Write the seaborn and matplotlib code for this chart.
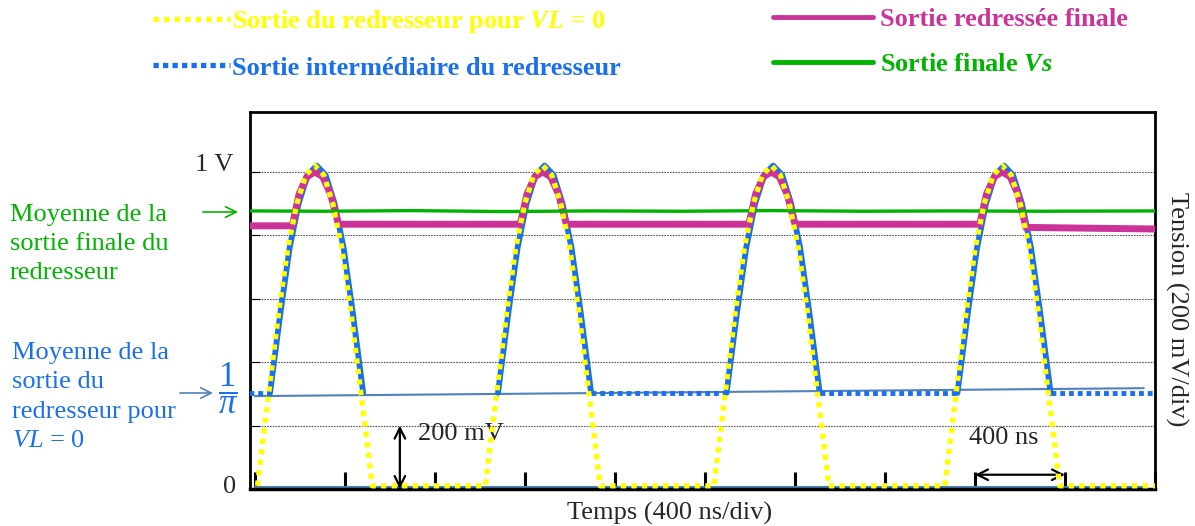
import matplotlib
matplotlib.use("Agg")
import matplotlib.pyplot as plt
from matplotlib.lines import Line2D
import numpy as np
import pandas as pd
import seaborn as sns

# time axis in ns (10 divisions of 400 ns), voltage in V
t_ticks = list(range(0, 4001, 400))
grid_levels = [0.2, 0.4, 0.6, 0.8, 1.0]

# pulse peaks
peak_times = [266, 1279, 2295, 3321]

# rectifier output for VL = 0 (one pulse, offsets from its peak)
pulse_offsets = [-255, -230, -200, -160, -120, -80, -40, 0, 40, 80, 120, 160, 200, 230, 255]
yellow_pulse = [0.01, 0.16, 0.33, 0.56, 0.76, 0.90, 0.99, 1.02, 0.99, 0.90, 0.76, 0.56, 0.33, 0.16, 0.01]
yellow_end = (4000, 0.01)

# intermediate output: solid part on the pulses, dotted at the 1/pi level
blue_offsets = [-199, -152, -112, -72, -32, 8, 48, 88, 128, 168, 215]
blue_pulse = [0.303, 0.56, 0.76, 0.90, 0.99, 1.02, 0.99, 0.90, 0.76, 0.56, 0.303]
blue_level = 0.303
blue_flat_start = [-25, 1494, 2510, 3536]
blue_flat_end = [67, 2096, 3122, 4000]

# final rectified output
mag_levels = [0.83, 0.835, 0.835, 0.835, 0.825]
mag_offsets = [-70, -35, 0, 35, 70]
mag_pulse = [0.93, 0.985, 1.0, 0.985, 0.93]
mag_rise, mag_fall = -100, 105
mag_end = (4000, 0.82)

# final output Vs
green_t = [-25, 300, 700, 1100, 1500, 1900, 2300, 2700, 3100, 3500, 4000]
green_v = [0.877, 0.876, 0.878, 0.875, 0.877, 0.876, 0.878, 0.876, 0.877, 0.876, 0.877]

# thin mean line and baseline
mean_t = [0, 3950]
mean_v = [0.293, 0.318]
base_t = [0, 3950]
base_v = [0.005, 0.005]

YELLOW = "#ffff00"
BLUE = "#1a6fef"
MAGENTA = "#cc3399"
GREEN = "#00b400"
STEEL = "#4f81bd"

sns.set_style("white")
plt.rcParams["font.family"] = ["Liberation Serif", "DejaVu Serif"]
plt.rcParams["font.size"] = 19
plt.rcParams["mathtext.fontset"] = "custom"
plt.rcParams["mathtext.rm"] = "Liberation Serif"
plt.rcParams["mathtext.it"] = "Liberation Serif:italic"
plt.rcParams["mathtext.bf"] = "Liberation Serif:bold"
plt.rcParams["mathtext.bfit"] = "Liberation Serif:bold:italic"

# build the traces
yt, yv = [], []
for p in peak_times:
    yt += [p + o for o in pulse_offsets]
    yv += yellow_pulse
yt.append(yellow_end[0])
yv.append(yellow_end[1])
yellow_df = pd.DataFrame({"t": yt, "v": yv})

rows = []
for i, p in enumerate(peak_times):
    for o, v in zip(blue_offsets, blue_pulse):
        rows.append((p + o, v, i))
blue_df = pd.DataFrame(rows, columns=["t", "v", "seg"])

rows = []
for i, (a, b) in enumerate(zip(blue_flat_start, blue_flat_end)):
    rows += [(a, blue_level, i), (b, blue_level, i)]
blue_flat_df = pd.DataFrame(rows, columns=["t", "v", "seg"])

mt, mv = [-30], [mag_levels[0]]
for i, p in enumerate(peak_times):
    mt.append(p + mag_rise)
    mv.append(mag_levels[i])
    mt += [p + o for o in mag_offsets]
    mv += mag_pulse
    mt.append(p + mag_fall)
    mv.append(mag_levels[i + 1])
mt.append(mag_end[0])
mv.append(mag_end[1])
mag_df = pd.DataFrame({"t": mt, "v": mv})

fig = plt.figure(figsize=(11.95, 5.26), dpi=100)
ax = fig.add_axes([250 / 1195, 37 / 526, 905 / 1195, 377 / 526])

sns.lineplot(x=base_t, y=base_v, ax=ax, color=STEEL, lw=1.5, zorder=2)
sns.lineplot(x=mean_t, y=mean_v, ax=ax, color=STEEL, lw=1.5, zorder=2)
sns.lineplot(data=blue_df, x="t", y="v", units="seg", estimator=None, sort=False,
             ax=ax, color=BLUE, lw=4.2, zorder=3)
sns.lineplot(data=blue_flat_df, x="t", y="v", units="seg", estimator=None, sort=False,
             ax=ax, color=BLUE, lw=3.5, linestyle=(0, (1, 0.8)), zorder=3)
sns.lineplot(data=mag_df, x="t", y="v", sort=False, ax=ax, color=MAGENTA, lw=5, zorder=4)
sns.lineplot(x=green_t, y=green_v, ax=ax, color=GREEN, lw=2.4, zorder=5)
sns.lineplot(data=yellow_df, x="t", y="v", sort=False, ax=ax, color=YELLOW, lw=3.8,
             linestyle=(0, (1, 1)), zorder=6)

ax.set_xlim(-22, 4000)
ax.set_ylim(0, 1.189)
ax.set_xticks(t_ticks)
ax.set_yticks(grid_levels)
ax.tick_params(axis="x", direction="in", length=12, width=2.2, color="black",
               labelbottom=False, bottom=True)
ax.tick_params(axis="y", direction="in", length=7, width=0.8, color="black",
               labelleft=False, left=True)
ax.yaxis.grid(True, color="#555555", linestyle=(0, (1.5, 1)), lw=0.8)
ax.set_xlabel("")
ax.set_ylabel("")
for side, w in [("left", 2), ("bottom", 2.5), ("top", 2), ("right", 2)]:
    ax.spines[side].set_visible(True)
    ax.spines[side].set_color("black")
    ax.spines[side].set_linewidth(w)

ytrans = ax.get_yaxis_transform()
ax.text(-0.040, 1.022, "1 V", transform=ytrans, ha="center", va="center")
ax.text(-0.023, 0.005, "0", transform=ytrans, ha="center", va="center")
ax.text(-0.024, 0.318, r"$\dfrac{1}{\pi}$", transform=ytrans, ha="center", va="center",
        color=BLUE, fontsize=25)

ax.text(0.464, -0.064, "Temps (400 ns/div)", transform=ax.transAxes, ha="center", va="center")
ax.text(1.024, 0.477, "Tension (200 mV/div)", transform=ax.transAxes, ha="center",
        va="center", rotation=270)

ax.annotate("", xy=(644, 0.0), xytext=(644, 0.2),
            arrowprops=dict(arrowstyle="<->", color="black", lw=1.6, shrinkA=0, shrinkB=0))
ax.text(724, 0.175, "200 mV", ha="left", va="center")
ax.annotate("", xy=(3200, 0.045), xytext=(3600, 0.045),
            arrowprops=dict(arrowstyle="<->", color="black", lw=1.6, shrinkA=0, shrinkB=0))
ax.text(3326, 0.16, "400 ns", ha="center", va="center")

fig.text(10 / 1195, 1 - 244 / 526, "Moyenne de la\nsortie finale du\nredresseur",
         color=GREEN, ha="left", va="center", linespacing=1.42)
fig.text(12 / 1195, 1 - 397 / 526, "Moyenne de la\nsortie du\nredresseur pour\n$VL$ = 0",
         color=BLUE, ha="left", va="center", linespacing=1.42)
ax.annotate("", xy=(238 / 1195, 1 - 212 / 526), xytext=(203 / 1195, 1 - 212 / 526),
            xycoords="figure fraction", textcoords="figure fraction",
            arrowprops=dict(arrowstyle="->", color=GREEN, lw=1.2, shrinkA=0, shrinkB=0))
ax.annotate("", xy=(213 / 1195, 1 - 393 / 526), xytext=(180 / 1195, 1 - 393 / 526),
            xycoords="figure fraction", textcoords="figure fraction",
            arrowprops=dict(arrowstyle="->", color=STEEL, lw=1.2, shrinkA=0, shrinkB=0))

# legends drawn as two columns above the plot
left_handles = [Line2D([], [], color=YELLOW, lw=3.8, linestyle=(0, (1, 1))),
                Line2D([], [], color=BLUE, lw=3.8, linestyle=(0, (1, 0.8)))]
left_labels = [r"Sortie du redresseur pour $\mathbfit{VL}$ = 0",
               "Sortie intermédiaire du redresseur"]
right_handles = [Line2D([], [], color=MAGENTA, lw=3.5),
                 Line2D([], [], color=GREEN, lw=3.5)]
right_labels = ["Sortie redressée finale", r"Sortie finale $\mathbfit{Vs}$"]

leg1 = fig.legend(left_handles, left_labels, loc="upper left",
                  bbox_to_anchor=(153 / 1195, 1 - 8 / 526), frameon=False,
                  borderpad=0, borderaxespad=0, handlelength=2.9, handletextpad=0.1,
                  labelspacing=0.8, labelcolor=[YELLOW, BLUE],
                  prop={"weight": "bold", "size": 19})
leg2 = fig.legend(right_handles, right_labels, loc="upper left",
                  bbox_to_anchor=(773 / 1195, 1 - 8 / 526), frameon=False,
                  borderpad=0, borderaxespad=0, handlelength=3.8, handletextpad=0.25,
                  labelspacing=0.8, labelcolor=[MAGENTA, GREEN],
                  prop={"weight": "bold", "size": 19})

fig.savefig("out.png", dpi=100)
